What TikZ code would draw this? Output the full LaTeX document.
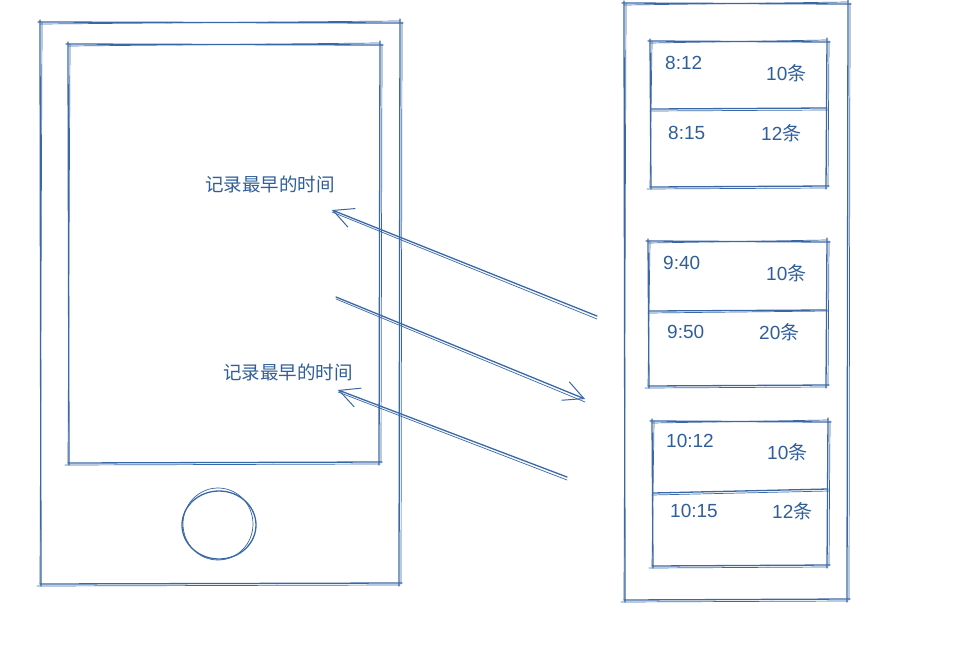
\documentclass[tikz,border=0pt]{standalone}
\usepackage{fontspec}
\setmainfont{Liberation Sans}
\newfontfamily\cjk{Noto Sans CJK SC}
\usetikzlibrary{arrows.meta}
\definecolor{ink}{HTML}{3A68A6}
\definecolor{txt}{HTML}{2F5E98}
\tikzset{
  sk/.style={draw=ink, line width=1.3pt, line cap=round},
  skl/.style={draw=ink, line width=0.7pt, line cap=round},
  lab/.style={text=txt, font=\cjk\fontsize{18.5}{18.5}\selectfont, inner sep=0pt},
  num/.style={text=txt, font=\fontsize{19}{19}\selectfont, inner sep=0pt},
  cnt/.style={text=txt, font=\fontsize{19}{19}\selectfont, inner sep=0pt},
}
\newcommand{\skrect}[4]{%
  \draw[sk] (#1-2,#2) -- (#3+3,#2+1);
  \draw[skl] (#1,#2+2) -- (#3,#2-1);
  \draw[sk] (#1,#4) -- (#3+2,#4-1);
  \draw[skl] (#1-3,#4+2) -- (#3,#4+1);
  \draw[sk] (#1,#2-2) -- (#1+1,#4+2);
  \draw[skl] (#1+2,#2) -- (#1,#4);
  \draw[sk] (#3,#2-3) -- (#3-1,#4+2);
  \draw[skl] (#3+2,#2) -- (#3+1,#4);
}
\begin{document}
\begin{tikzpicture}[x=1pt,y=-1pt]
\useasboundingbox (0,0) rectangle (975,667);
% phone
\skrect{40}{22}{400}{584}
\skrect{68}{44}{380}{463}
\draw[sk] (219,525) ellipse (37 and 34);
\draw[skl] (218,524) ellipse (35 and 36);
% right panel
\skrect{624}{3}{848}{600}
% cards
\skrect{650}{41}{827}{187}
\draw[sk] (651,109) -- (827,108);
\draw[skl] (650,111) -- (828,110);
\skrect{648}{241}{827}{386}
\draw[sk] (649,311) -- (827,310);
\draw[skl] (648,313) -- (828,311);
\skrect{652}{421}{828}{566}
\draw[sk] (653,493) -- (828,489);
\draw[skl] (652,495) -- (829,491);
% card texts
\node[num, anchor=west] (t1) at (665,63) {8:12};
\node[cnt, anchor=west] (c1) at (766,73) {10{\cjk 条}};
\node[num, anchor=west] (t2) at (668,133) {8:15};
\node[cnt, anchor=west] (c2) at (761,133) {12{\cjk 条}};
\node[num, anchor=west] (t3) at (663,263) {9:40};
\node[cnt, anchor=west] (c3) at (766,273) {10{\cjk 条}};
\node[num, anchor=west] (t4) at (667,332) {9:50};
\node[cnt, anchor=west] (c4) at (759,332) {20{\cjk 条}};
\node[num, anchor=west] (t5) at (666,441) {10:12};
\node[cnt, anchor=west] (c5) at (767,452) {10{\cjk 条}};
\node[num, anchor=west] (t6) at (670,511) {10:15};
\node[cnt, anchor=west] (c6) at (772,511) {12{\cjk 条}};
% labels
\node[lab, anchor=west] (l1) at (205,184) {记录最早的时间};
\node[lab, anchor=west] (l2) at (223,372) {记录最早的时间};
% arrow endpoints
\coordinate (a1s) at (597,316);
\coordinate (a1e) at (332,210);
\coordinate (a2s) at (336,297);
\coordinate (a2e) at (585,399);
\coordinate (a3s) at (567,477);
\coordinate (a3e) at (338,390);
\draw[sk, -{Straight Barb[length=20pt,width=20pt,line width=1pt]}] (a1s) -- (a1e);
\draw[skl] ([yshift=-3pt]a1s) -- ([yshift=-2pt]a1e);
\draw[sk, -{Straight Barb[length=20pt,width=20pt,line width=1pt]}] (a2s) -- (a2e);
\draw[skl] ([yshift=-2pt]a2s) -- ([yshift=-3pt]a2e);
\draw[sk, -{Straight Barb[length=20pt,width=20pt,line width=1pt]}] (a3s) -- (a3e);
\draw[skl] ([yshift=-3pt]a3s) -- ([yshift=-2pt]a3e);
\end{tikzpicture}
\end{document}
